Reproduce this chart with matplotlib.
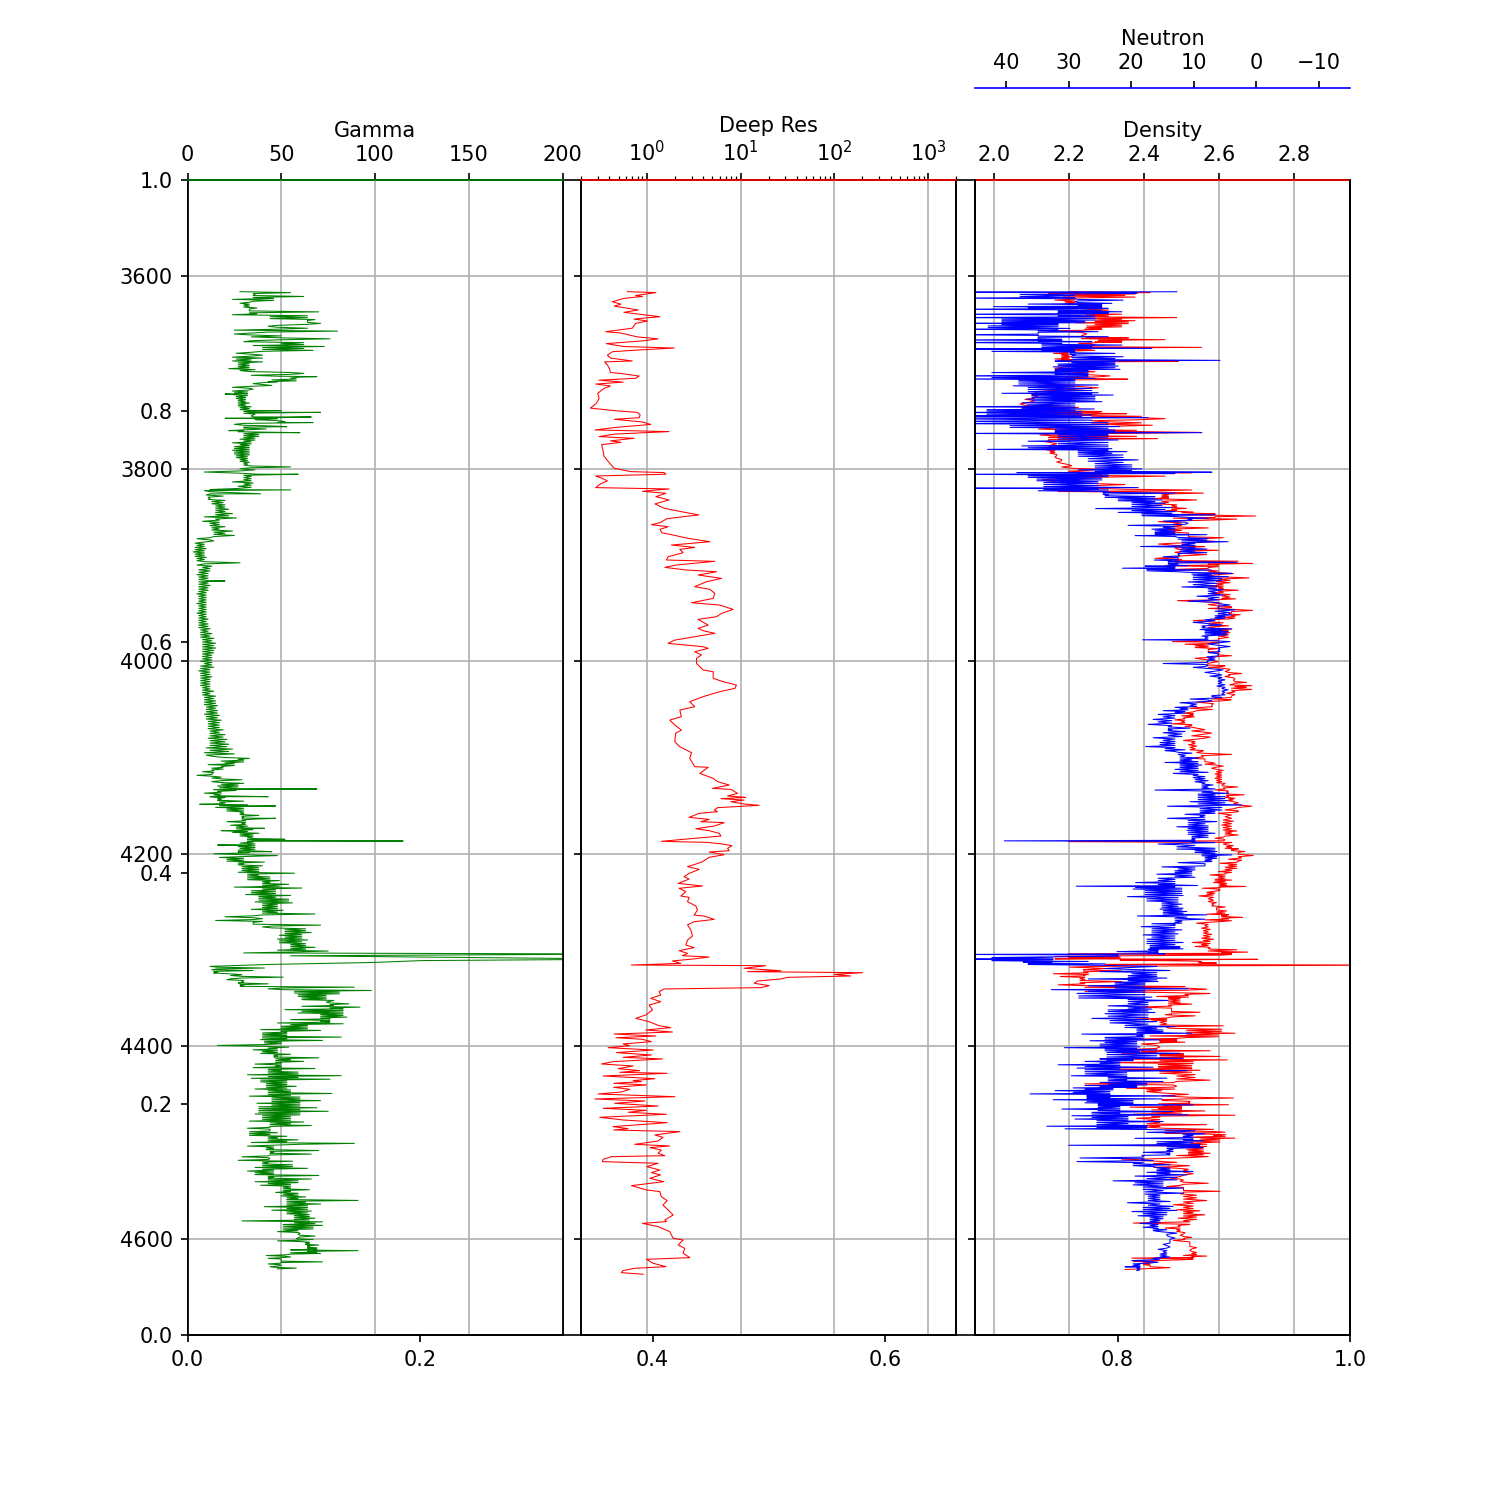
import numpy as np
import matplotlib
matplotlib.use("Agg")
import matplotlib.pyplot as plt

# ---- Gamma ray: dense readings per depth interval, plus isolated kicks ----
gamma_3616 = [55,28,62,35,46,24,33,28,37,30,70,33,24,64,68,44,64,71,48,43,80,25,34,25,76,50,62,30,35,73,40,67,26,34,24,40,24,40,27,33,22,36]
gamma_3700 = [55,62,48,60,45,58,40,35,24,33,24,32,25,32,26,31,27,33,27,34,28,34,30,36,35,45,52,48,30,25,42,30,40,27,38,30,36,28,34,24,33,25,33,24,33,25,32,26,33,28,34,30]
gamma_3800 = [28,36,27,38,30,34,24,35,27,34,12,9,19,10,20,11,20,13,22,15,24,15,26,9,8,17,12,20,13,24,14,25,5,12,4,9,4,10,3,9,4,10,5,9]
gamma_3900 = [5,13,6,12,5,11,6,11,6,12,6,11,5,10,6,10,5,10,6,10,5,10,6,11,6,11,6,12,7,13,7,14,8,15,8,15,8,14,8,13]
gamma_4000 = [7,13,7,14,6,12,7,13,7,12,7,12,8,14,8,15,9,15,9,16,10,16,9,17,10,18,11,17,11,19,12,20,11,21,12,22,10,24,9,25]
gamma_4100 = [20,33,18,30,11,25,13,19,8,14,5,13,18,29,17,30,16,27,14,26,9,18,12,20,16,30,17,32,15,30,21,30,28,38,29,37,21,31,23,32,26,35,24,38,28,35,32,36,28,36,27,36,27,37]
gamma_4200 = [14,30,17,30,21,41,27,40,29,38,27,57,32,44,32,49,40,54,25,61,34,47,31,55,38,54,36,56,40,48,34,51,40,68,20,35,15,40,35,71,45,63,52,66,49,61,48,64,49,63,55,68,48,75]
gamma_4317 = [12,16,13,35,14,23,29,51,21,30,27,43,28,89,51,98,57,81,59,74,61,78,76,86,61,92,52,83,59,83,71,85,55,76,48,83,50,64,39,71,40,53,40,82,39,72,41,50]
gamma_4400 = [40,54,35,48,39,55,46,70,47,62,36,50,35,68,43,59,32,82,34,76,39,53,42,58,36,55,43,77,33,60,45,71,37,60,38,69,38,75,36,60,40,55,33,62,44,66,32,44,33,48,33,53,43,59]
gamma_4500 = [34,89,32,46,42,70,44,66,29,43,27,56,40,56,36,64,32,46,36,70,43,66,36,59,39,55,51,65,47,59,50,63,53,91,53,71,41,64,45,66,53,65,57,68,29,72,51,72,51,67,48,59,60,68]
gamma_4600 = [58,67,60,65,63,70,64,69,55,91,55,71,42,52,43,50,50,72,43,49,44,48]
gamma_kick_depth = [3704.3,3709.5,3722.3,3739.6,3741.4,3746.2,3747.6,3752,3756.3,3760.4,3762.5,3805.7,3822,3826,3916.6,4132.7,4140.7,4148.6,4150.4,4163.2,4173.6,4176,4185,4186.8,4190.9,4197.8,4304.2,4306,4309.5,4311,4313,4315]
gamma_kick_value = [69,43,20,50,71,66,20,67,53,22,60,59,55,39,20,69,43,6.5,47,47,41,18,52,115,16,45,240,55,240,125,98,44]

# ---- Deep resistivity ----
res_depth = [3616,3617,3620,3621,3623,3626.5,3629,3631,3632,3635,3637.5,3640,3642,3644.5,3646.5,3649,3654,3657.6,3659,3663,3665,3667,3670,3673,3674.6,3676.7,3678.4,3682,3685,3688,3689,3692,3696,3700,
    3701,3703.7,3706,3708,3710,3712,3714,3716.5,3721.6,3727,3732,3737,3739.6,3741.4,3744,3747,3748.6,3751.4,3754,3757,3759.7,3761.4,3764,3766.6,3768.4,3771,3772.5,3775,3780.5,3787,3794,3799.5,
    3803,3804,3805.7,3807.5,3810,3812.6,3815.8,3819.6,3821,3823.4,3825.5,3829,3832.4,3836.5,3841,3844.5,3848,3849.7,3852,
    3856.1,3858.1,3860.2,3863,3866.5,3868.9,3872.3,3875.8,3879.3,3881.7,3883.8,3887.2,3891.4,3894.8,3896.2,3900,3902.5,3905.2,3907,3910.4,3913.9,3917.4,3922.5,3925.3,3929.5,3934.7,3939.2,3941.6,3944.4,3946.1,3950.3,3953.7,3956.5,3962.4,3965.8,3968.3,3971,3974.5,3978,3981.4,3984.9,3986.6,3990.1,3993.5,3997,4002.2,4009.1,4010.9,4017.8,4021.2,4024.7,4028.2,4031.6,4036.8,4042,4047.2,4050.7,4057.6,4061.1,4066.3,4071.5,4074.9,4083.6,4088.8,4095,4100.9,4109.5,4110.2,4116.5,4121.7,
    4125.1,4128.6,4132.1,4133.1,4137.3,4140,4141.4,4142.8,4144.2,4145.9,4148.3,4149.7,4152.1,4154.6,4156.3,4158,4162.2,4164.3,4166.7,4167.7,4171.2,4174,4176,4178.8,4181.6,4184,4187.1,4188.2,4189.9,4191.6,4194.4,4196.8,4198.2,4201,4203.7,4208.2,4210.7,4213.4,4216.2,4220.4,4223.8,4226.3,4230.8,4233.5,4235.9,4239.4,4243.9,4245.3,4249.8,4254.3,4258.5,4263.7,4264.7,4268.2,4270.6,4274,4279.2,4285.5,4289.6,4294.8,4297.6,4300.7,4303.5,4305.9,4307.3,4309.4,4311.4,4313.9,4315.6,4316.3,4319,4321.5,4322.5,4323.6,4325.3,4327,4328.4,4330.1,4332.2,4334.6,4337,4339.1,4340.5,4343.3,4346.8,4350.2,4353.7,4357.2,4362.3,4367.5,4371,4374.5,4378.6,4380.7,4383.1,4385.2,4387.3,4389.4,4391.1,4392.8,
    4395.2,4397.6,4399.4,4401.5,4403.9,4406.6,4409.1,4411.5,4413.2,4416,4418.4,4420.5,4423.3,4425.3,4427.1,4428.1,4430.9,4433.7,4435.7,4436.8,4438.5,4440.2,4442.7,4444.7,4447.5,4449.6,4452.4,4454.8,4456.9,4459.3,4462.1,4464.5,4466.6,4468.6,4470.7,4473.8,4476.6,4479.4,4483.5,4485.6,4487,4488.7,4492.2,4494.6,4498.4,4501.9,4503.6,4505.3,4507.8,4511.2,4513.7,4514.7,4517.5,4519.9,4521.6,4525.1,4528.6,4531.3,4533.7,4537.2,4540.7,4544.8,4549.3,4551,4556.3,4560.4,4564.9,4570.1,4575.3,4580.5,4582.2,4584,4587.4,4592.6,4599.5,4601.3,4606.5,4609.9,4615.1,4619.6,4621.4,4625.5,4629,4630.7,4633.1,4635.2,4636.9]
res_value = [.62,1.25,.76,.9,.57,.43,.53,.45,.52,.81,.57,.94,1.38,.73,1.02,.76,.70,.365,.53,.79,1.32,.94,.37,.57,1.96,.79,.43,.38,.41,.70,.355,.38,.40,.41,
    .53,.83,.76,.31,.56,.285,.41,.35,.30,.31,.29,.25,.45,.79,.85,.83,.45,.9,1.1,.47,.28,1.73,.45,.31,.73,.41,.53,.33,.34,.35,.40,.45,
    .675,1.53,1.6,.285,.335,.38,.32,.285,1.73,.9,1.6,1.25,1.73,1.22,1.53,2.31,3.6,2.5,1.63,
    1.38,1.12,1.69,1.38,1.45,1.91,2.76,4.71,1.83,3.25,2.25,2.44,1.69,1.62,5.32,2.07,1.56,2.65,5.54,3.53,6.27,4.33,3.25,4.71,5.32,5.11,3.0,6.0,7.38,8.33,6.27,5.54,3.53,4.52,3.53,3.99,5.32,3.25,1.99,1.69,3.99,4.52,3.25,3.83,3.39,3.39,3.99,5.11,5.11,6.53,9.05,8.7,6.0,3.99,2.87,3.25,2.25,2.34,1.76,1.99,2.34,2.03,1.99,2.25,3.0,2.87,3.25,4.52,3.68,5.11,
    5.69,7.58,5.02,7.89,9.3,7.27,11.4,6.17,10.9,7.89,10.9,15.8,5.69,5.24,5.69,3.62,2.83,4.63,3.78,6.7,5.24,3.34,4.63,5.93,6.17,3.2,1.43,4.44,6.43,8.1,7.27,7.58,4.63,6.7,4.63,3.93,3.34,2.72,3.62,2.83,2.5,2.83,2.16,3.93,2.21,2.61,2.31,2.83,2.72,3.34,3.47,3.2,4.09,5.24,3.2,2.72,2.95,3.07,2.72,2.61,3.2,2.21,2.72,2.4,4.63,3.07,1.88,2.31,.686,18.6,10.9,26.9,11.9,200,100,150,31.8,26.9,15.2,14,20.2,16.5,1.53,1.35,1.41,1.1,1.41,1.06,1.15,.975,.763,1.06,1.35,1.8,.975,1.88,.448,1.25,.47,.9,
    1.12,.559,.658,.387,1.17,.474,1.12,.559,1.47,.437,.328,.715,.494,.842,.515,1.65,.342,1.22,.715,.877,.444,.992,.444,.658,.536,.302,1.99,.279,.952,.455,1.32,.342,.992,.632,1.62,.315,.559,1.65,.437,.632,.444,2.25,1.22,1.49,1.32,.744,1.76,1.08,1.43,1.32,1.56,.419,.342,.336,1.32,1.0,1.38,1.12,1.4,1.08,1.52,.686,.992,1.38,1.43,1.65,1.49,1.69,1.91,1.56,1.62,.9,1.32,1.76,1.91,2.44,2.16,2.54,2.44,2.88,.992,1.17,1.6,.744,.559,.536,.914]

# ---- Bulk density: spread of readings at each logged depth ----
density_depth = [3616.1,3617.8,3620.6,3624.8,3628.2,3634.1,3638.6,3642.1,3645.5,3648.3,3651.8,3654.9,3656.6,3663.5,3665.2,3668,3669.7,3673.2,3676,3680.1,3682.9,3686,3688.1,3689.8,3695.7,3702.6,3706.4,3708.5,3723.4,3727.9,3732.7,3740,3742.4,3744.1,3746.9,3751.1,3753.5,3758.7,3761.4,3764.9,3767.7,3771.8,3780.5,3783.9,3789.1,3794.3,3799.5,3803.6,3806.4,3811.6,3821.3,3824.4,3828.2,3831,3836.5,3840.3,3843.8,3846.2,3848.3,3851.4,
    3855,3860.2,3865.4,3870.6,3874.7,3878.2,3883.7,3887.9,3893.1,3895.5,3897.6,3900.7,3904.5,3907.9,3912.1,3917.3,3921.8,3925.2,3929.4,3934.6,3937,3942.5,3946,3950.8,3954.3,3957.8,3962.3,3965.7,3969.2,3973.7,3979.6,3982.3,3985.8,3989.9,3993.4,3996.9,4003.8,4007.2,4011.7,4015.9,4021.1,4024.5,4028,4033.2,4039.1,4042.5,4048.8,4053.9,4056.7,4060.9,4065,4068.5,4073.7,4077.5,4082.3,4086.8,4092,4095.5,4100.7,
    4104.3,4107.8,4112.3,4117.1,4121.6,4126.1,4129.6,4133.7,4137.9,4141.4,4144.8,4149.3,4154.5,4158,4164.9,4170.1,4175.3,4179.4,4183.9,4187.4,4190.8,4194.3,4196.7,4200.5,4205.7,4209.9,4214,4218.5,4222,4226.5,4229.9,4233.4,4235.8,4240,4243.8,4249.7,4254.2,4258.3,4262.8,4265.2,4268.7,4272.1,4277.3,4282.5,4287.7,4292.2,4296.4,4299.1,4301.6,4304,4306.7,4309.2,4311.2,4313,4315,4317.8,4320.6,4324.7,4327.5,4331.7,4336.2,4339.6,4344.1,4348.3,4351,4355.2,4359.3,4363.8,4367.3,4371.8,
    4372.7,4377.9,4381.3,4385.5,4389.3,4392.7,4395.2,4397.6,4403.8,4407.3,4409.7,4413.2,4417,4421.1,4423.9,4428,4433.9,4439.1,4443.6,4447.1,4452.9,4456.4,4459.9,4463.3,4466.1,4470.6,4474.8,4480.6,4484.1,4488.6,4491,4494.5,4498.3,4503.1,4506.9,4510.4,4513.5,4518,4523.2,4526.7,4530.8,4537,4541.2,4545.7,4549.8,4553.3,4558.8,4564.7,4569.9,4574,4578.6,4583.7,4588.9,4592.4,4597.6,4601.7,4608,4613.2,4617.3,4620.1,4623.5,4627,4629.1]
density_low = [2.203,2.146,2.186,2.163,2.19,2.243,2.208,2.217,2.27,2.217,2.248,2.243,2.159,2.248,2.279,2.27,2.226,2.181,2.181,2.159,2.181,2.163,2.172,2.217,2.163,2.27,2.279,2.106,2.101,2.083,2.07,2.226,2.279,2.159,2.394,2.292,2.261,2.119,2.381,2.123,2.146,2.137,2.141,2.15,2.168,2.181,2.208,2.252,2.11,2.128,2.35,2.443,2.448,2.421,2.43,2.474,2.457,2.532,2.59,2.479,
    2.439,2.466,2.448,2.519,2.563,2.439,2.492,2.501,2.43,2.492,2.572,2.457,2.483,2.599,2.59,2.594,2.572,2.599,2.581,2.608,2.49,2.599,2.634,2.626,2.612,2.532,2.586,2.59,2.599,2.599,2.476,2.51,2.537,2.572,2.599,2.537,2.568,2.608,2.626,2.617,2.643,2.63,2.634,2.621,2.581,2.541,2.523,2.506,2.501,2.483,2.475,2.528,2.563,2.528,2.506,2.519,2.523,2.554,2.528,
    2.563,2.59,2.594,2.59,2.59,2.594,2.612,2.59,2.621,2.617,2.626,2.652,2.617,2.599,2.612,2.608,2.612,2.617,2.59,2.199,2.621,2.617,2.634,2.652,2.626,2.603,2.617,2.599,2.577,2.59,2.586,2.603,2.556,2.568,2.547,2.572,2.581,2.594,2.568,2.608,2.563,2.541,2.554,2.559,2.554,2.53,2.537,2.577,2.608,2.199,2.163,2.163,2.483,2.554,2.297,2.202,2.239,2.159,2.177,2.23,2.172,2.51,2.448,2.434,2.466,2.466,2.386,2.474,2.457,2.377,
    2.421,2.443,2.47,2.514,2.417,2.368,2.443,2.394,2.337,2.341,2.443,2.283,2.31,2.439,2.27,2.443,2.488,2.243,2.354,2.408,2.519,2.452,2.439,2.363,2.421,2.372,2.381,2.408,2.408,2.586,2.55,2.51,2.523,2.368,2.514,2.519,2.488,2.341,2.47,2.488,2.506,2.47,2.506,2.461,2.506,2.497,2.506,2.479,2.488,2.506,2.492,2.372,2.457,2.488,2.506,2.479,2.523,2.528,2.506,2.368,2.372,2.399,2.417]
density_high = [2.35,2.377,2.377,2.217,2.243,2.306,2.341,2.488,2.377,2.359,2.341,2.288,2.234,2.359,2.457,2.341,2.261,2.554,2.27,2.199,2.208,2.208,2.492,2.306,2.19,2.31,2.357,2.141,2.119,2.11,2.088,2.288,2.354,2.261,2.457,2.35,2.423,2.172,2.554,2.15,2.437,2.168,2.163,2.168,2.181,2.199,2.288,2.528,2.457,2.172,2.528,2.559,2.466,2.541,2.488,2.514,2.501,2.59,2.698,2.648,
    2.501,2.572,2.519,2.612,2.59,2.483,2.599,2.568,2.483,2.652,2.69,2.599,2.572,2.639,2.681,2.63,2.612,2.652,2.63,2.645,2.572,2.634,2.69,2.657,2.643,2.572,2.626,2.634,2.63,2.626,2.599,2.572,2.599,2.599,2.634,2.572,2.617,2.63,2.661,2.639,2.674,2.688,2.688,2.643,2.633,2.586,2.583,2.532,2.535,2.51,2.528,2.546,2.581,2.577,2.537,2.541,2.559,2.634,2.563,
    2.581,2.612,2.612,2.608,2.608,2.617,2.65,2.626,2.668,2.643,2.639,2.688,2.652,2.634,2.639,2.634,2.648,2.652,2.612,2.634,2.639,2.652,2.67,2.692,2.661,2.648,2.648,2.634,2.617,2.634,2.621,2.672,2.603,2.59,2.586,2.594,2.617,2.621,2.626,2.664,2.634,2.572,2.577,2.581,2.586,2.577,2.572,2.648,2.677,2.634,2.337,2.704,2.546,2.594,3.1,2.261,2.341,2.252,2.243,2.341,2.243,2.568,2.577,2.519,2.497,2.528,2.474,2.55,2.537,2.461,
    2.461,2.612,2.608,2.643,2.599,2.488,2.51,2.434,2.577,2.506,2.603,2.623,2.532,2.528,2.55,2.537,2.577,2.479,2.483,2.448,2.639,2.523,2.626,2.501,2.563,2.643,2.443,2.568,2.457,2.617,2.619,2.643,2.603,2.568,2.559,2.577,2.572,2.426,2.522,2.519,2.532,2.497,2.572,2.506,2.603,2.541,2.568,2.532,2.55,2.563,2.541,2.523,2.497,2.51,2.528,2.523,2.541,2.541,2.568,2.532,2.434,2.417,2.47]

# ---- Neutron porosity: spread of readings at each logged depth ----
neutron_depth = [3616.1,3617.8,3622,3624.8,3628.2,3631,3633.4,3636.9,3638.6,3642.1,3645.5,3648.3,3650.7,3654.2,3657.6,3660.1,3662.8,3665.6,3668,3671.5,3674.9,3677.4,3680.1,3683.6,3687.4,3690.5,3693.3,3696.7,3699.2,3702.6,3706.1,3708.8,3713,3716.5,3721,3723.4,3726.8,3730.3,3734.8,3737.9,3740.7,3744.1,3746.9,3752.1,3756.2,3759.7,3762.5,3765.6,3770.1,3775.3,3779.1,3782.2,3785.7,3790.8,3796,3800.2,3803.6,3805,3808.1,3811.6,3815.1,3819.6,3822,3825.4,3828.9,3832.4,3835.8,3840.3,3844.5,3847.9,3851.4,
    3853.3,3857.8,3861.9,3865.4,3868.5,3872.3,3875.8,3879.9,3883.4,3887.2,3890.6,3894.1,3897.2,3900.7,3902.7,3905.2,3908.6,3912.1,3916.2,3921.8,3925.9,3931.1,3936.3,3941.5,3946.7,3951.9,3955.3,3958.8,3962.3,3966.4,3969.2,3972.6,3977.1,3979.6,3984.7,3989.9,3994.4,3998.6,4001.3,4005.5,4009,4014.2,4019.3,4024.5,4029.7,4034.9,4038.4,4041.8,4047,4050.5,4053.9,4059.1,4064.3,4069.5,4073,4078.2,4083.4,4087.5,4092,4095.5,4100.7,
    4104.3,4107.8,4111.3,4115.4,4119.9,4124.1,4128.6,4132.7,4137.2,4140.7,4144.8,4149.3,4154.5,4158,4162.1,4166.6,4171.1,4174.6,4178.7,4182.9,4186,4188.4,4194.3,4197.7,4201.2,4204.7,4208.1,4212.6,4216.8,4220.2,4224.4,4228.9,4233,4235.8,4239.3,4243.4,4247.9,4252.4,4256.6,4260,4263.5,4268,4272.1,4274.6,4279.1,4283.2,4287.7,4292.2,4296.4,4298.8,4300.9,4304,4306.4,4309.2,4310.2,4311.9,4314.4,4317.1,4321.3,4325.8,4329.2,4332.7,4336.2,4340.3,4343.8,4349,4352.4,4356.9,4361.4,4364.9,4370,
    4374.4,4379.6,4383.1,4386.5,4390,4393.4,4396.9,4400.7,4403.8,4407.3,4412.5,4414.9,4418.4,4421.8,4425.3,4429.8,4433.2,4436.7,4440.2,4442.6,4445.3,4448.8,4451.6,4454.7,4458.1,4460.9,4464.4,4467.8,4471.3,4474.8,4478.2,4482.4,4485.1,4487.9,4491,4494.8,4498.3,4502.1,4505.2,4509.4,4512.8,4515.2,4518.7,4523.2,4526.7,4530.1,4533.6,4538.8,4542.9,4547.4,4552.6,4556.8,4561.3,4566.4,4570.6,4575.1,4579.2,4583,4587.2,4590.7,4594.1,4599.3,4604.5,4609.7,4614.9,4619,4621.8,4625.3,4628.7,4630.5]
neutron_high = [48,37.8,48,28.5,36.5,42,48,31.7,48,48,40.7,48,42.9,48,34.9,48,34.9,48,48,34.3,48,42.3,29.8,29.5,32.2,31.7,32.5,32.2,42.3,48,48,38,38.9,36.5,40.7,35.9,36.7,37.5,48,43.1,48,48,48,48,39.4,32.2,48,31.7,36.5,37.5,43,28.5,28.5,26.9,25.8,28.5,38.3,48,36.5,35.1,34,48,34.9,24.5,24.2,22.1,19.9,25.7,22.1,18.3,10.9,
    14.9,20.5,16.7,16.2,19.4,12.5,11.9,18.5,12.2,12.5,14.9,16.3,14.1,17.8,21.4,17.5,10.3,10.1,10.9,11.9,7.7,9.5,10.9,6.1,6.6,6.6,7.1,10.1,8.7,9,8.2,8.7,18.2,6.1,6.1,7.7,7.9,7.7,14.9,10.1,6.6,7.4,6.1,6.3,5.5,7.1,10.6,12.2,13,14.9,15.7,16.5,17.3,14.1,14.9,16.5,15.4,17.7,14.6,12.5,12.2,
    14.6,12.2,13,13.3,10.1,9.8,8.7,16.2,9.3,9.3,10.6,14.2,9,11.4,14.2,10.9,12.7,11.1,10.9,10.3,40.3,15.7,12.7,9.8,8.7,8.2,12.5,15.1,13,15.9,15.7,19.3,28.8,19.7,17.8,20.6,17.5,15.1,15.4,14.9,19,13,16.7,18.4,16.7,18.1,17.5,17.5,17,17.3,22.3,48,32.5,48,41.5,37.3,36.5,19.9,25,20.5,26.9,22.6,26.9,32.8,28.7,28.4,20.5,23.7,23.7,24.2,26.3,
    23.4,21,19.1,27.9,24.2,26.6,25,30.7,24.2,23.9,25,27.4,31.7,28.7,27.4,29.6,23.7,25,27.4,29.3,32.2,36.2,27.1,32.5,27.4,25.3,31.1,26.3,29.5,29,25.5,33.5,30.6,12.2,11.7,19.4,15.9,30,14.3,18.1,18.3,28.2,28.7,19.7,15.9,17.5,19.4,22.9,19.7,18.1,17.8,17.3,20.6,18.1,19.9,18.9,17,18.6,18.1,16.5,14.3,13.8,14.9,15.7,15.4,15.7,19.9,19.7,21,19.1]
neutron_low = [12.7,19.4,29,21.3,23.1,24.7,23.7,21.5,23.7,25.8,25.8,27.4,31.7,29.8,25.3,34.9,23.7,31.1,26.3,21.5,16.7,29,22.6,21.3,5.8,22.6,22.1,21.8,26.9,26.9,25.8,29,25.3,26.3,25.3,22.9,25.8,24.7,29,25.9,27.9,26.3,17.3,23.7,21.8,22.6,8.7,23.7,22.1,23.7,23.1,20.7,21.3,18.9,19.9,18.3,7.1,13,23.7,24.7,25.3,18.9,23.7,13,16.2,15.1,14.6,13.5,13,6.6,7.7,
    10.3,11.4,13,13,7.9,7.7,4.5,9.8,7.9,7.9,12.5,12.5,3.1,10.9,13,7.2,3.9,4.5,5.5,6.3,5.3,5.3,6.1,4.2,3.4,3.9,5,8.2,5.5,3.9,4.5,4.7,7.7,4.2,4.2,5.8,6.1,6.6,7.9,8.2,5.3,5.5,5,5,4.5,5,7.1,7.9,9.5,10.9,11.4,13,13.5,10.6,11.4,11.9,13,13,11.4,10.3,9.3,
    9.3,8.7,9.3,7.7,8.2,7.7,6.9,6.6,4.5,5,4.5,2.3,5.5,6.6,8.2,6.3,7.7,7.7,6.6,7.7,9.8,6.6,6.6,6.3,3.9,6.3,7.1,8.2,9.8,10.3,9.8,13,9.4,11.9,11.9,11.7,12.5,11.9,11.7,11.1,7.9,8.2,11.9,13,11.9,12.5,13,11.7,12.2,11.7,15.7,14.6,22.1,42.3,32.7,26.9,24.2,15.9,13.8,15.9,14.3,15.7,17.8,10.9,17.8,16.7,14.1,17.3,16.7,16.2,17.3,
    15.9,13,14.9,10.3,18.1,15.4,19.1,18.6,15.9,12.2,11.7,19.7,21.8,16.5,11.1,20.7,14.3,14.9,17.5,19.1,22.9,23.4,13,15.1,19.7,10.1,21.8,13.3,10.9,20.5,14.9,17.5,17.5,9.8,8.2,10.1,8.5,9,8.5,13.3,13.8,18.1,16.5,13.8,13.8,10.1,11.1,12.7,14.9,11.7,11.7,15.4,13.8,13.3,12.7,14.3,14.9,15.4,15.7,14.3,12.7,13,13.8,14.3,14.3,13.8,16.5,17.3,18.6,18.6]

# Axis settings
depth_ticks = [3600, 3800, 4000, 4200, 4400, 4600]
density_ticks = [2.0, 2.2, 2.4, 2.6, 2.8]
neutron_ticks = [40, 30, 20, 10, 0, -10]


def spread(depth, low, high):
    """Trace a noisy log: swing across the full range at each depth, then
    across the range shared with the neighbouring depths, so the steady
    part of the curve reads solid and lone excursions stay single strokes."""
    depth = np.asarray(depth, float)
    low = np.asarray(low, float)
    high = np.asarray(high, float)
    step = np.diff(depth, append=depth[-1] + np.median(np.diff(depth)))
    low_n = np.column_stack([np.roll(low, 1), low, np.roll(low, -1)]).max(axis=1)
    high_n = np.column_stack([np.roll(high, 1), high, np.roll(high, -1)]).min(axis=1)
    d = np.column_stack([depth, depth + step / 4, depth + step / 2, depth + 3 * step / 4]).ravel()
    v = np.column_stack([low, high, low_n, high_n]).ravel()
    return d, v


def interval(start, stop, values):
    """Pair one interval's readings as low/high swings over its depth range."""
    values = np.asarray(values, float)
    pairs = values[: len(values) // 2 * 2].reshape(-1, 2)
    depth = np.linspace(start, stop, len(pairs), endpoint=False)
    return spread(depth, pairs.min(axis=1), pairs.max(axis=1))


# Assemble the gamma curve from its intervals and kicks
pieces = [
    interval(3616, 3700, gamma_3616), interval(3700, 3800, gamma_3700),
    interval(3800, 3900, gamma_3800), interval(3900, 4000, gamma_3900),
    interval(4000, 4100, gamma_4000), interval(4100, 4200, gamma_4100),
    interval(4200, 4304, gamma_4200), interval(4317, 4400, gamma_4317),
    interval(4400, 4500, gamma_4400), interval(4500, 4600, gamma_4500),
    interval(4600, 4632, gamma_4600),
    (np.array(gamma_kick_depth, float), np.array(gamma_kick_value, float)),
]
g_depth = np.concatenate([p[0] for p in pieces])
g_value = np.concatenate([p[1] for p in pieces])
order = np.argsort(g_depth)
g_depth, g_value = g_depth[order], g_value[order]

d_depth, d_value = spread(density_depth, density_low, density_high)
n_depth, n_value = spread(neutron_depth, neutron_low, neutron_high)

fig = plt.figure(figsize=(10, 10), dpi=150)
frame = fig.add_subplot(111)

grid = plt.GridSpec(1, 3, wspace=0.05)
tracks = [fig.add_subplot(grid[0, i]) for i in range(3)]
for i, ax in enumerate(tracks):
    ax.set_ylim(4700, 3500)
    ax.set_yticks(depth_ticks)
    ax.set_xticks([])
    ax.grid(True, axis="y")
    if i:
        ax.tick_params(labelleft=False)


def top_axis(ax, label, color):
    twin = ax.twiny()
    twin.set_xlabel(label)
    twin.spines["top"].set_edgecolor(color)
    return twin


gamma_ax = top_axis(tracks[0], "Gamma", "green")
gamma_ax.plot(g_value, g_depth, color="green", lw=0.5)
gamma_ax.set_xlim(0, 200)
gamma_ax.grid(True)

res_ax = top_axis(tracks[1], "Deep Res", "red")
res_ax.plot(res_value, res_depth, color="red", lw=0.5)
res_ax.set_xscale("log")
res_ax.set_xlim(0.2, 2000)
res_ax.grid(True, which="major")

density_ax = top_axis(tracks[2], "Density", "red")
density_ax.plot(d_value, d_depth, color="red", lw=0.5)
density_ax.set_xlim(1.95, 2.95)
density_ax.set_xticks(density_ticks)
density_ax.grid(True)

neutron_ax = top_axis(tracks[2], "Neutron", "blue")
neutron_ax.plot(n_value, n_depth, color="blue", lw=0.5)
neutron_ax.set_xlim(45, -15)
neutron_ax.set_xticks(neutron_ticks)
neutron_ax.spines["top"].set_position(("axes", 1.08))

fig.savefig("out.png", dpi=150)
